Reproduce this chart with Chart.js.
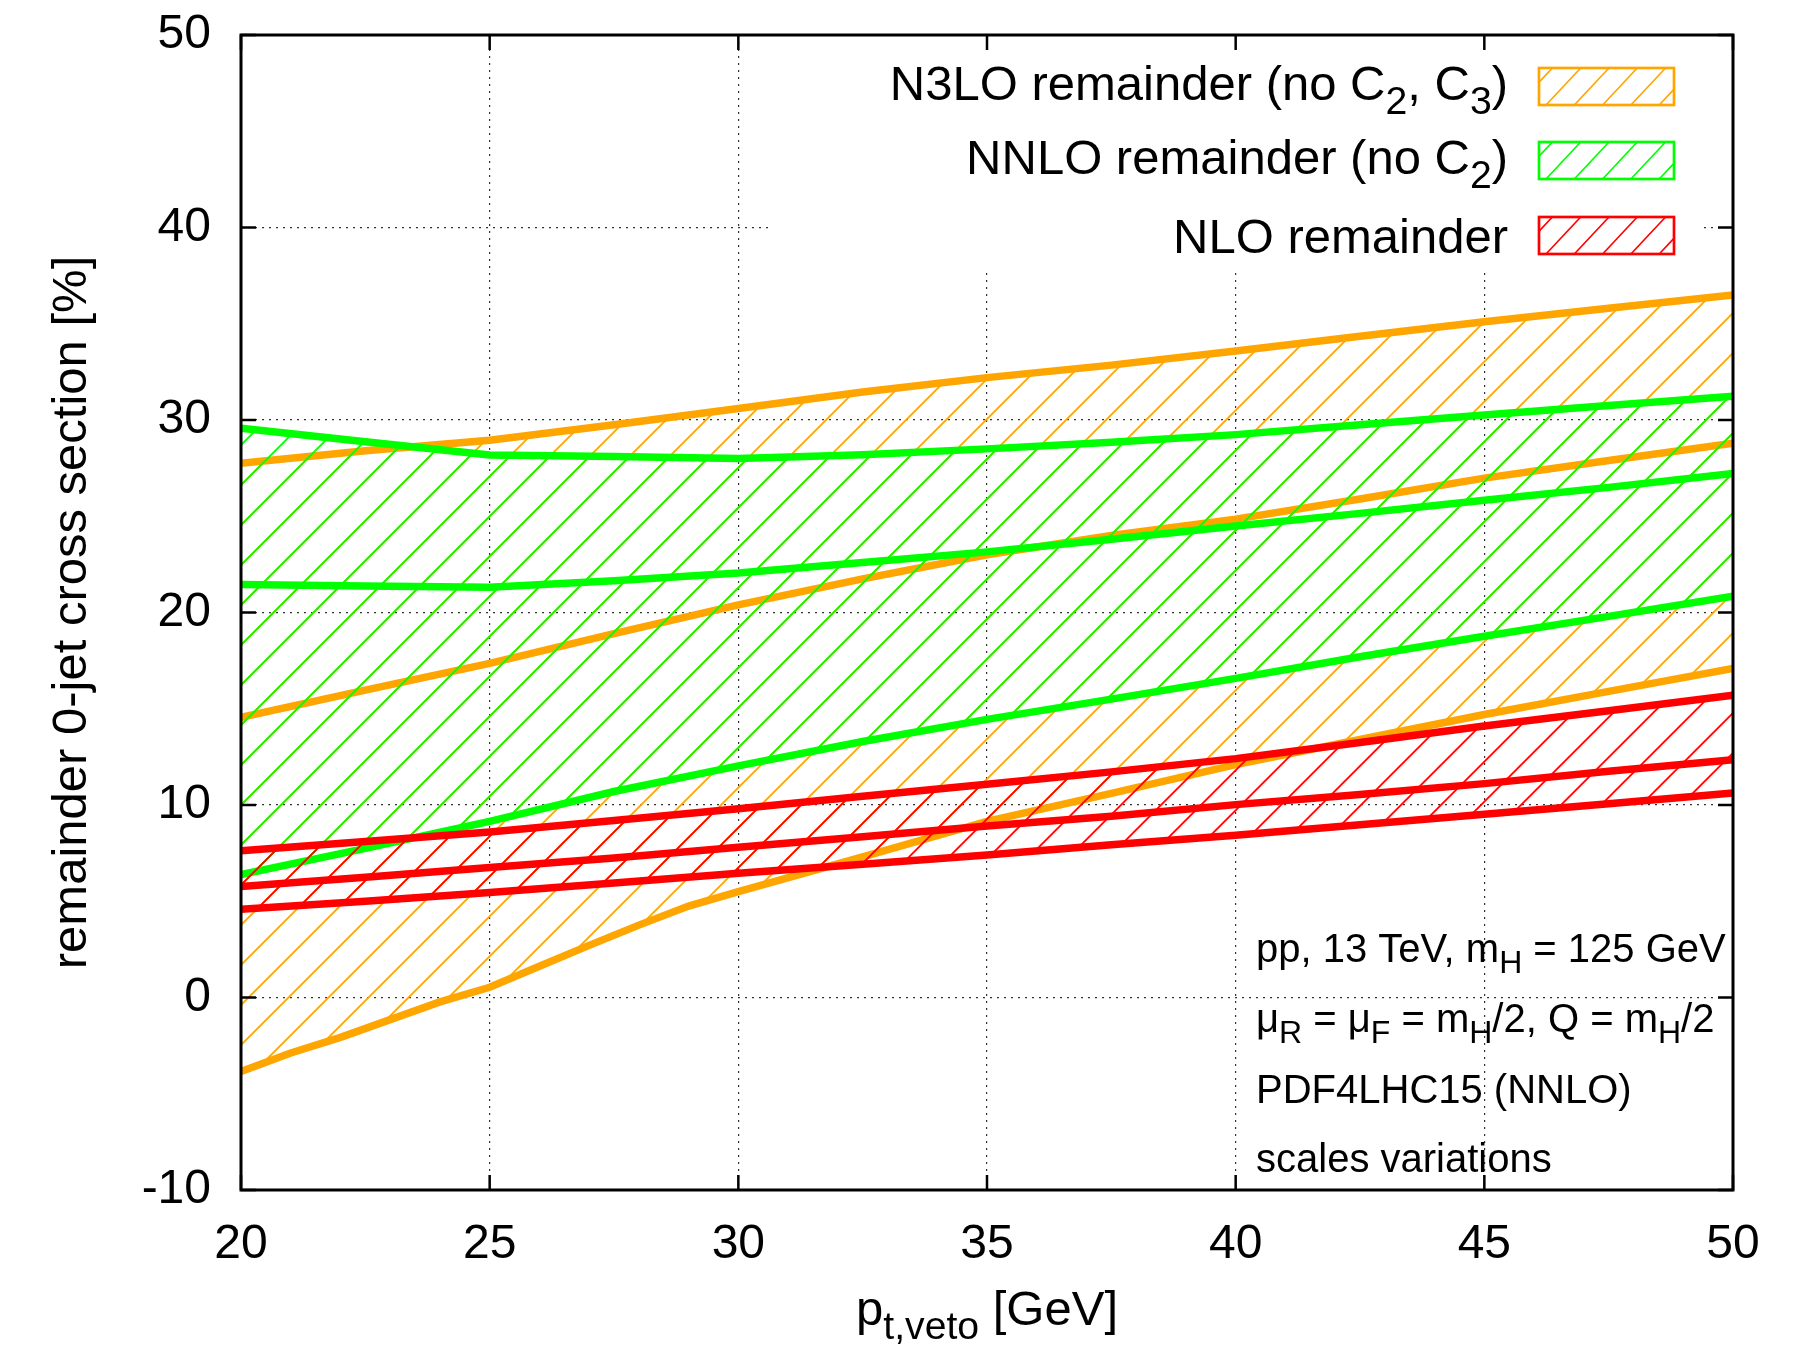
<!DOCTYPE html>
<html>
<head>
<meta charset="utf-8">
<script src="https://cdn.jsdelivr.net/npm/chart.js@4/dist/chart.umd.min.js"></script>
<style>
  html, body { margin: 0; padding: 0; background: #fff; }
  #wrap { width: 1810px; height: 1345px; }
</style>
</head>
<body>
<div id="wrap"><canvas id="c" width="1810" height="1345"></canvas></div>
<script>
// p_t,veto grid (GeV)
const ptVeto = [20, 22.5, 25, 27.5, 30, 32.5, 35, 37.5, 40, 42.5, 45, 47.5, 50];
const ptVetoFine = [20, 21, 22, 23, 24, 25, 26, 27, 28, 29, 30, 32.5, 35, 37.5, 40, 42.5, 45, 47.5, 50];

// N3LO remainder (no C2, C3): scale-variation envelope and central value [%]
const n3loUpper   = [27.75, 28.4, 28.95, 29.75, 30.6, 31.45, 32.2, 32.85, 33.58, 34.35, 35.1, 35.8, 36.5];
const n3loCentral = [14.55, 15.97, 17.36, 18.9, 20.4, 21.75, 23.0, 24.0, 24.85, 25.9, 26.98, 27.9, 28.8];
const n3loLower   = [-3.85, -2.88, -2.07, -1.15, -0.23, 0.53, 1.62, 2.71, 3.76, 4.75, 5.5, 7.3, 9.15, 10.6, 12.1, 13.4, 14.7, 15.9, 17.1];

// NNLO remainder (no C2)
const nnloUpper   = [29.57, 28.87, 28.18, 28.1, 28.0, 28.2, 28.5, 28.85, 29.24, 29.75, 30.26, 30.75, 31.23];
const nnloCentral = [21.46, 21.38, 21.31, 21.65, 22.05, 22.6, 23.15, 23.8, 24.49, 25.15, 25.83, 26.5, 27.22];
const nnloLower   = [6.38, 7.75, 9.15, 10.7, 12.03, 13.3, 14.45, 15.5, 16.58, 17.7, 18.77, 19.8, 20.85];

// NLO remainder
const nloUpper    = [7.62, 8.1, 8.6, 9.2, 9.8, 10.45, 11.08, 11.72, 12.41, 13.25, 14.1, 14.9, 15.7];
const nloCentral  = [5.77, 6.25, 6.75, 7.25, 7.8, 8.35, 8.91, 9.42, 10.02, 10.55, 11.11, 11.75, 12.35];
const nloLower    = [4.59, 5.0, 5.45, 5.95, 6.45, 6.92, 7.4, 7.93, 8.43, 8.97, 9.52, 10.07, 10.62];

const xTicks = [20, 25, 30, 35, 40, 45, 50];
const yTicks = [-10, 0, 10, 20, 30, 40, 50];

const legendLabels = [
  [['N3LO remainder (no C', 0], ['2', 1], [', C', 0], ['3', 1], [')', 0]],
  [['NNLO remainder (no C', 0], ['2', 1], [')', 0]],
  [['NLO remainder', 0]]
];
const infoLines = [
  [['pp, 13 TeV, m', 0], ['H', 1], [' = 125 GeV', 0]],
  [['\u03bc', 0], ['R', 1], [' = \u03bc', 0], ['F', 1], [' = m', 0], ['H', 1], ['/2, Q = m', 0], ['H', 1], ['/2', 0]],
  [['PDF4LHC15 (NNLO)', 0]],
  [['scales variations', 0]]
];
const xTitle = [['p', 0], ['t,veto', 1], [' [GeV]', 0]];
const yTitle = 'remainder 0-jet cross section [%]';

const ORANGE = '#ffa500', GREEN = '#00ff00', RED = '#ff0000';
const FONT = '"Liberation Sans", Arial, Helvetica, sans-serif';

Chart.defaults.font.family = FONT;
Chart.defaults.color = '#000';

// diagonal "//" hatch used for the band fills
function hatch(color, size, lw, shift) {
  const c = document.createElement('canvas');
  c.width = size; c.height = size;
  const g = c.getContext('2d');
  g.strokeStyle = color;
  g.lineWidth = lw;
  g.beginPath();
  g.moveTo(0, size); g.lineTo(size, 0);
  g.moveTo(-size / 2, size / 2); g.lineTo(size / 2, -size / 2);
  g.moveTo(size / 2, size * 1.5); g.lineTo(size * 1.5, size / 2);
  g.stroke();
  const p = g.createPattern(c, 'repeat');
  p.setTransform(new DOMMatrix([1, 0, 0, 1, shift, 0]));
  return p;
}

function series(label, xs, ys, color, order, fill, bg) {
  return {
    label,
    data: xs.map((x, i) => ({ x, y: ys[i] })),
    borderColor: color,
    borderWidth: 7.5,
    pointRadius: 0,
    pointHoverRadius: 0,
    tension: 0,
    order,
    fill: fill || false,
    backgroundColor: bg || 'rgba(0,0,0,0)',
    clip: 0
  };
}

function richWidth(ctx, parts, size) {
  let w = 0;
  for (const [t, sub] of parts) {
    ctx.font = (sub ? size * 0.8 : size) + 'px ' + FONT;
    w += ctx.measureText(t).width;
  }
  return w;
}

function drawRich(ctx, parts, x, y, size, align) {
  const w = richWidth(ctx, parts, size);
  if (align === 'right') x -= w;
  else if (align === 'center') x -= w / 2;
  ctx.textAlign = 'left';
  ctx.textBaseline = 'alphabetic';
  for (const [t, sub] of parts) {
    ctx.font = (sub ? size * 0.8 : size) + 'px ' + FONT;
    ctx.fillText(t, x, sub ? y + size * 0.28 : y);
    x += ctx.measureText(t).width;
  }
}

const decor = {
  id: 'decor',
  beforeDatasetsDraw(chart) {
    // opaque key box hides the grid behind the key
    const ctx = chart.ctx;
    ctx.save();
    ctx.fillStyle = '#fff';
    ctx.fillRect(768, chart.chartArea.top, 932, 270 - chart.chartArea.top);
    ctx.restore();
  },
  afterDraw(chart) {
    const ctx = chart.ctx;
    const a = chart.chartArea;
    const xs = chart.scales.x, ys = chart.scales.y;
    ctx.save();

    // frame
    ctx.strokeStyle = '#000';
    ctx.lineWidth = 3;
    ctx.strokeRect(a.left, a.top, a.right - a.left, a.bottom - a.top);

    // inward tick marks on all four sides
    ctx.lineWidth = 2.5;
    ctx.beginPath();
    for (const v of xTicks) {
      const px = xs.getPixelForValue(v);
      ctx.moveTo(px, a.bottom); ctx.lineTo(px, a.bottom - 15);
      ctx.moveTo(px, a.top); ctx.lineTo(px, a.top + 15);
    }
    for (const v of yTicks) {
      const py = ys.getPixelForValue(v);
      ctx.moveTo(a.left, py); ctx.lineTo(a.left + 15, py);
      ctx.moveTo(a.right, py); ctx.lineTo(a.right - 15, py);
    }
    ctx.stroke();

    // key
    const keyColors = [ORANGE, GREEN, RED];
    const keyBase = [100, 174, 253];
    const keyBox = [68, 142, 217];
    for (let i = 0; i < 3; i++) {
      ctx.fillStyle = '#000';
      drawRich(ctx, legendLabels[i], 1508, keyBase[i], 49, 'right');
      const bx = 1539, by = keyBox[i], bw = 135, bh = 37;
      ctx.save();
      ctx.beginPath();
      ctx.rect(bx, by, bw, bh);
      ctx.clip();
      ctx.strokeStyle = keyColors[i];
      ctx.lineWidth = 1.6;
      ctx.beginPath();
      for (let k = -3; k < 7; k++) {
        const x0 = 1546 + 28.3 * k;
        ctx.moveTo(x0, by + bh);
        ctx.lineTo(x0 + 34.7, by);
      }
      ctx.stroke();
      ctx.restore();
      ctx.strokeStyle = keyColors[i];
      ctx.lineWidth = 2.7;
      ctx.strokeRect(bx, by, bw, bh);
    }

    // run information
    ctx.fillStyle = '#000';
    const infoBase = [962, 1032, 1103, 1172];
    infoLines.forEach((ln, i) => drawRich(ctx, ln, 1256, infoBase[i], 40, 'left'));

    // x axis title
    drawRich(ctx, xTitle, (a.left + a.right) / 2, 1325, 49, 'center');

    ctx.restore();
  }
};

new Chart(document.getElementById('c'), {
  type: 'line',
  data: {
    datasets: [
      series('N3LO upper', ptVeto, n3loUpper, ORANGE, 3, '+2', hatch(ORANGE, 40, 1.8, 6)),
      series('N3LO central', ptVeto, n3loCentral, ORANGE, 3),
      series('N3LO lower', ptVetoFine, n3loLower, ORANGE, 3),
      series('NNLO upper', ptVeto, nnloUpper, GREEN, 2, '+2', hatch(GREEN, 40, 1.8, 6)),
      series('NNLO central', ptVeto, nnloCentral, GREEN, 2),
      series('NNLO lower', ptVeto, nnloLower, GREEN, 2),
      series('NLO upper', ptVeto, nloUpper, RED, 1, '+2', hatch(RED, 40, 1.8, 6)),
      series('NLO central', ptVeto, nloCentral, RED, 1),
      series('NLO lower', ptVeto, nloLower, RED, 1)
    ]
  },
  options: {
    responsive: false,
    animation: false,
    devicePixelRatio: 1,
    layout: { padding: { left: 0, right: 77, top: 35, bottom: 0 } },
    plugins: { legend: { display: false }, tooltip: { enabled: false } },
    events: [],
    scales: {
      x: {
        type: 'linear',
        min: 20, max: 50,
        afterBuildTicks: s => { s.ticks = xTicks.map(v => ({ value: v })); },
        ticks: { padding: 26, font: { size: 48 }, color: '#000', maxRotation: 0, autoSkip: false },
        grid: { color: 'rgba(0,0,0,0.8)', lineWidth: 1.2, drawTicks: false, borderDash: [2, 5] },
        border: { display: false, dash: [2, 5] },
        afterFit: s => { s.height = 155; s.paddingLeft = 0; s.paddingRight = 0; }
      },
      y: {
        type: 'linear',
        min: -10, max: 50,
        afterBuildTicks: s => { s.ticks = yTicks.map(v => ({ value: v })); },
        ticks: { padding: 30, font: { size: 48 }, color: '#000', autoSkip: false },
        grid: { color: 'rgba(0,0,0,0.8)', lineWidth: 1.2, drawTicks: false, borderDash: [2, 5] },
        border: { display: false, dash: [2, 5] },
        title: { display: true, text: yTitle, font: { size: 49 }, color: '#000', padding: { top: 43, bottom: 0 } },
        afterFit: s => { s.width = 241; s.paddingTop = 0; s.paddingBottom = 0; }
      }
    }
  },
  plugins: [decor]
});
</script>
</body>
</html>
